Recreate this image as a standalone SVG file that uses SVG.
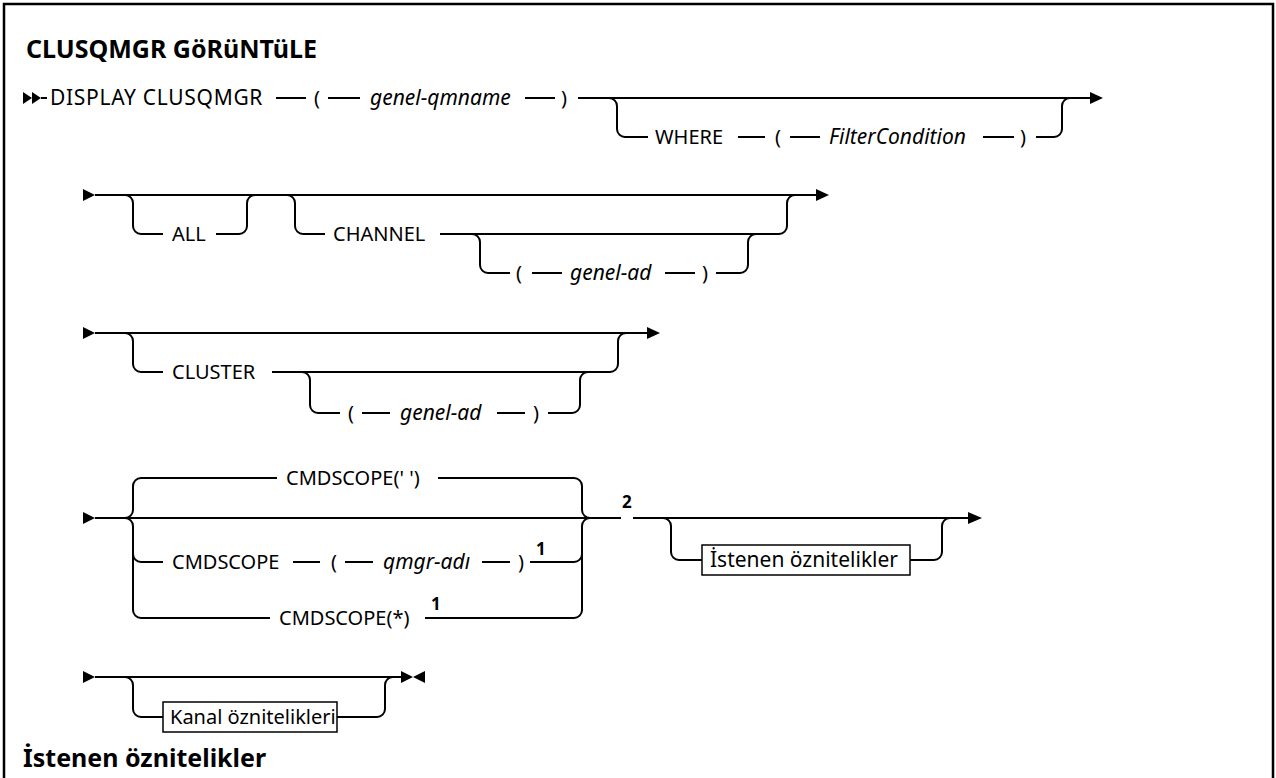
<svg xmlns="http://www.w3.org/2000/svg" width="1276" height="778" viewBox="0 0 1276 778">
<style>
.t{font-family:"Noto Sans","Liberation Sans",sans-serif;font-size:20px;fill:#000}
.i{font-style:italic;font-size:21px}
.k{font-size:21px}
.h{font-weight:bold;font-size:25px}
.n{font-weight:bold;font-size:17px}
.l{fill:none;stroke:#000;stroke-width:2}
.b{fill:#fff;stroke:#000;stroke-width:1.5}
.a{fill:#000;stroke:none}
</style>
<rect width="1276" height="778" fill="#fff"/>
<path d="M4,778 V4 H1273 V778" fill="none" stroke="#000" stroke-width="2.5"/>
<g id="title"><text class="t h" x="26" y="58">CLUSQMGR GöRüNTüLE</text></g>
<g id="connectors">
<!-- row 1 -->
<polygon class="a" points="23,92 32,98 23,104"/>
<polygon class="a" points="32,92 41,98 32,104"/>
<path class="l" d="M41,98 H47 M276,98 H306 M328,98 H360 M525,98 H555 M578,98 H1090"/>
<path class="l" d="M609,98 a8,8 0 0 1 8,8 V129 a8,8 0 0 0 8,8 H648 M738,137 H765 M790,137 H820 M983,137 H1014 M1036,137 H1054 a8,8 0 0 0 8,-8 V106 a8,8 0 0 1 8,-8"/>
<polygon class="a" points="1090,92 1103,98 1090,104"/>
<!-- row 2 -->
<polygon class="a" points="83,189 95,195 83,201"/>
<path class="l" d="M95,195 H816"/>
<polygon class="a" points="816,189 829,195 816,201"/>
<path class="l" d="M125,195 a8,8 0 0 1 8,8 V226 a8,8 0 0 0 8,8 H163 M216,234 H239 a8,8 0 0 0 8,-8 V203 a8,8 0 0 1 8,-8"/>
<path class="l" d="M287,195 a8,8 0 0 1 8,8 V226 a8,8 0 0 0 8,8 H325 M440,234 H779 a8,8 0 0 0 8,-8 V203 a8,8 0 0 1 8,-8"/>
<path class="l" d="M472,234 a8,8 0 0 1 8,8 V265 a8,8 0 0 0 8,8 H510 M532,273 H562 M665,273 H695 M716,273 H740 a8,8 0 0 0 8,-8 V242 a8,8 0 0 1 8,-8"/>
<!-- row 3 -->
<polygon class="a" points="83,327 95,333 83,339"/>
<path class="l" d="M95,333 H647"/>
<polygon class="a" points="647,327 660,333 647,339"/>
<path class="l" d="M125,333 a8,8 0 0 1 8,8 V364 a8,8 0 0 0 8,8 H163 M272,372 H610 a8,8 0 0 0 8,-8 V341 a8,8 0 0 1 8,-8"/>
<path class="l" d="M302,372 a8,8 0 0 1 8,8 V405 a8,8 0 0 0 8,8 H340 M362,413 H390 M497,413 H525 M548,413 H572 a8,8 0 0 0 8,-8 V380 a8,8 0 0 1 8,-8"/>
<!-- row 4 -->
<polygon class="a" points="83,512 95,518 83,524"/>
<path class="l" d="M95,518 H621 M633,518 H968"/>
<polygon class="a" points="968,512 982,518 968,524"/>
<path class="l" d="M125,518 a8,8 0 0 0 8,-8 V486 a8,8 0 0 1 8,-8 H277 M438,478 H574 a8,8 0 0 1 8,8 V510 a8,8 0 0 0 8,8"/>
<path class="l" d="M125,518 a8,8 0 0 1 8,8 V554 a8,8 0 0 0 8,8 H163 M133,554 V610 a8,8 0 0 0 8,8 H270"/>
<path class="l" d="M293,562 H320 M345,562 H373 M482,562 H510 M530,562 H574 a8,8 0 0 0 8,-8 V526 a8,8 0 0 1 8,-8 M425,618 H574 a8,8 0 0 0 8,-8 V554"/>
<path class="l" d="M663,518 a8,8 0 0 1 8,8 V552 a8,8 0 0 0 8,8 H702 M910,560 H934 a8,8 0 0 0 8,-8 V526 a8,8 0 0 1 8,-8"/>
<!-- row 5 -->
<polygon class="a" points="83,671 95,677 83,683"/>
<path class="l" d="M95,677 H401"/>
<polygon class="a" points="401,671 413,677 401,683"/>
<polygon class="a" points="425,671 413,677 425,683"/>
<path class="l" d="M125,677 a8,8 0 0 1 8,8 V709 a8,8 0 0 0 8,8 H163 M337,717 H377 a8,8 0 0 0 8,-8 V685 a8,8 0 0 1 8,-8"/>
</g>
<g id="n-display"><text class="t k" x="50" y="105" letter-spacing="0.7">DISPLAY CLUSQMGR</text></g>
<g id="n-qmname"><text class="t" x="314" y="105">(</text><text class="t i" x="370" y="105">genel-qmname</text><text class="t" x="561" y="105">)</text></g>
<g id="n-where"><text class="t" x="655" y="144">WHERE</text><text class="t" x="775" y="144">(</text><text class="t i" x="829" y="144">FilterCondition</text><text class="t" x="1020" y="144">)</text></g>
<g id="n-all"><text class="t" x="172" y="241">ALL</text></g>
<g id="n-channel"><text class="t" x="333" y="241">CHANNEL</text></g>
<g id="n-channel-name"><text class="t" x="516" y="280">(</text><text class="t i" x="570" y="280">genel-ad</text><text class="t" x="702" y="280">)</text></g>
<g id="n-cluster"><text class="t" x="172" y="379">CLUSTER</text></g>
<g id="n-cluster-name"><text class="t" x="348" y="420">(</text><text class="t i" x="400" y="420">genel-ad</text><text class="t" x="533" y="420">)</text></g>
<g id="n-cmdscope-blank"><text class="t" x="286" y="485">CMDSCOPE(' ')</text></g>
<g id="n-note2"><text class="t n" x="622" y="508">2</text></g>
<g id="n-cmdscope-qmgr"><text class="t" x="172" y="569">CMDSCOPE</text><text class="t" x="331" y="569">(</text><text class="t i" x="383" y="569">qmgr-adı</text><text class="t" x="518" y="569">)</text><text class="t n" x="536" y="555">1</text></g>
<g id="n-cmdscope-star"><text class="t" x="279" y="625">CMDSCOPE(*)</text><text class="t n" x="431" y="610">1</text></g>
<g id="n-requested"><rect class="b" x="702" y="545" width="208" height="30"/><text class="t k" x="710" y="567">İstenen öznitelikler</text></g>
<g id="n-channel-attrs"><rect class="b" x="163" y="702" width="174" height="30"/><text class="t" x="170" y="724">Kanal öznitelikleri</text></g>
<g id="heading2"><text class="t h" x="23" y="767">İstenen öznitelikler</text></g>
</svg>
